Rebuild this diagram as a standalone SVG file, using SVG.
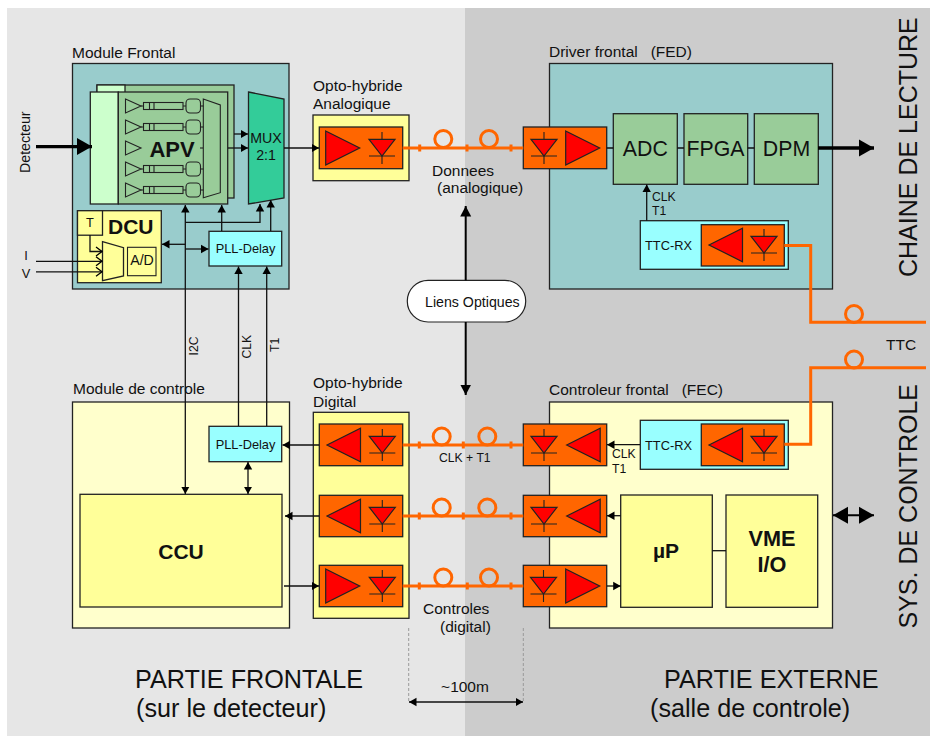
<svg xmlns="http://www.w3.org/2000/svg" width="930" height="736" viewBox="0 0 930 736">
<style>
text{font-family:"Liberation Sans",Arial,sans-serif;fill:#111;white-space:pre}
.s15{font-size:15.5px}.s14{font-size:14.2px}.s13{font-size:12.8px}.s12{font-size:12.2px}.s25{font-size:25.2px}.s26{font-size:25px}
.b{font-weight:bold}.m{text-anchor:middle}
.bx{stroke:#222;stroke-width:1.3}
.teal{fill:#99cccc}.ly{fill:#ffffcc}.y{fill:#ffff99}.g{fill:#99cc99}.c{fill:#99ffff}.o{fill:#ff6600}
.l{fill:none;stroke:#111;stroke-width:1.3}
.f{fill:none;stroke:#ff6600;stroke-width:3}
.t{fill:#ff0000;stroke:#222;stroke-width:1.2}
.thin{fill:none;stroke:#222;stroke-width:1.1}
.thick{fill:none;stroke:#000;stroke-width:3.4}
.med{fill:none;stroke:#000;stroke-width:2}
.dash{fill:none;stroke:#999;stroke-width:1;stroke-dasharray:3 2}
</style>
<defs>
<marker id="a" markerUnits="userSpaceOnUse" markerWidth="9" markerHeight="10" refX="7.5" refY="5" orient="auto-start-reverse"><path d="M0,0.8L7.5,5L0,9.2z" fill="#000"/></marker>
<marker id="am" markerUnits="userSpaceOnUse" markerWidth="12" markerHeight="12" refX="10.5" refY="6" orient="auto-start-reverse"><path d="M0,0.5L10.5,6L0,11.5z" fill="#000"/></marker>
<marker id="ao" markerUnits="userSpaceOnUse" markerWidth="9" markerHeight="12" refX="7" refY="6" orient="auto"><path d="M1,1.5L7,6L1,10.5" fill="none" stroke="#000" stroke-width="1.3"/></marker>
<marker id="ab" markerUnits="userSpaceOnUse" markerWidth="16" markerHeight="18" refX="15" refY="9" orient="auto-start-reverse"><path d="M0,0.5L15,9L0,17.5z" fill="#000"/></marker>
<g id="rcv"><path class="t" d="M-13,-8.7H13L0,8Z"/><path class="thin" d="M-13,8H13M0,-16V-8.7M0,8V16"/></g>
<path id="triR" class="t" d="M0,-17L34,0L0,17Z"/>
<path id="triL" class="t" d="M0,0L33.5,-16.7V16.7Z"/>
<g id="rowamp"><path class="thin" d="M0,-7L15.5,0L0,7Z"/><rect class="thin" x="18" y="-3.5" width="39.5" height="7"/><path class="thin" d="M15.5,0H18M24,-3.5V3.5M28.5,-3.5V3.5M57.5,0H60.5"/><rect class="thin" x="60.5" y="-7" width="14.5" height="14" rx="4"/><path class="thin" d="M75,0H78"/></g>
</defs>

<rect x="7" y="8" width="458" height="728" fill="#e6e6e6"/>
<rect x="465" y="8" width="465" height="728" fill="#cccccc"/>

<g id="module-frontal">
<rect class="bx teal" x="72.5" y="63.5" width="216.5" height="225.5"/>
<text class="s15" x="72" y="58">Module Frontal</text>
</g>
<g id="fed">
<rect class="bx teal" x="549.5" y="63.5" width="283" height="225.5"/>
<text class="s15" x="549" y="57">Driver frontal   (FED)</text>
</g>
<g id="module-controle">
<rect class="bx ly" x="72.5" y="402" width="217" height="226"/>
<text class="s15" x="73" y="394">Module de controle</text>
</g>
<g id="fec">
<rect class="bx ly" x="549.5" y="402" width="283" height="226"/>
<text class="s15" x="549" y="395">Controleur frontal   (FEC)</text>
</g>

<g id="apv">
<rect class="bx g" x="97" y="85" width="137" height="113"/>
<rect class="bx" fill="#ccffcc" x="97" y="85" width="28" height="8"/>
<rect class="bx" fill="#ccffcc" x="90.3" y="92" width="28" height="112"/>
<rect class="bx g" x="118.3" y="92" width="109.4" height="112"/>
<use href="#rowamp" x="125.5" y="106"/>
<use href="#rowamp" x="125.5" y="127"/>
<path class="thin" d="M125.5,141L141,148L125.5,155Z"/>
<use href="#rowamp" x="125.5" y="169"/>
<use href="#rowamp" x="125.5" y="190"/>
<path class="thin" d="M203.3,99L220.3,105V192.7L203.3,197.7Z"/>
<path class="thin" d="M200,148H203"/>
<text class="b m" style="font-size:22px" x="172" y="156.5">APV</text>
</g>
<g id="mux">
<path class="bx" fill="#33cc99" d="M248.5,92L284,99V198L248.5,204Z"/>
<text class="s14 m" x="266" y="143">MUX</text>
<text class="s14 m" x="266" y="160">2:1</text>
</g>
<g id="dcu">
<rect class="bx y" x="77.5" y="210.7" width="83.8" height="72"/>
<rect class="bx y" x="77.5" y="210.7" width="25" height="24.5"/>
<text class="s13 m" x="90" y="227">T</text>
<path class="bx y" d="M102.5,241.7L123.5,247.7V276L102.5,280.7Z"/>
<rect class="thin" x="127.5" y="247.3" width="28.5" height="28.4"/>
<text class="s14 m" x="142" y="265">A/D</text>
<text class="b" style="font-size:21px" x="108" y="234">DCU</text>
</g>
<g id="pll-haut">
<rect class="bx c" x="209" y="231.3" width="72.7" height="34.7"/>
<text class="s13 m" x="245.5" y="253">PLL-Delay</text>
</g>
<g id="pll-bas">
<rect class="bx c" x="209" y="426.3" width="72.7" height="35.4"/>
<text class="s13 m" x="245.5" y="449">PLL-Delay</text>
</g>
<g id="ccu">
<rect class="bx y" x="80" y="494.3" width="202" height="112.7"/>
<text class="b m" style="font-size:21px" x="181" y="559">CCU</text>
</g>

<g id="opto-analogique">
<text class="s15" x="313" y="91">Opto-hybride</text>
<text class="s15" x="313" y="109">Analogique</text>
<rect class="bx y" x="313" y="115" width="96" height="65.7"/>
<rect class="bx o" x="319.3" y="127" width="83.4" height="41.7"/>
<use href="#triR" x="325.7" y="148"/>
<use href="#rcv" x="382" y="148"/>
</g>
<g id="opto-digital">
<text class="s15" x="313" y="388">Opto-hybride</text>
<text class="s15" x="313" y="407">Digital</text>
<rect class="bx y" x="313.3" y="412.3" width="95.7" height="206"/>
<rect class="bx o" x="319.3" y="424" width="83.4" height="41.7"/>
<use href="#triL" x="327" y="445"/><use href="#rcv" x="382.3" y="445"/>
<rect class="bx o" x="319.3" y="495.3" width="83.4" height="41.4"/>
<use href="#triL" x="327" y="516"/><use href="#rcv" x="382.3" y="516"/>
<rect class="bx o" x="319.3" y="565.3" width="83.4" height="41.4"/>
<use href="#triR" x="325.7" y="586"/><use href="#rcv" x="382.3" y="586"/>
</g>
<g id="recepteur-fed">
<rect class="bx o" x="523.3" y="127" width="83.4" height="41.7"/>
<use href="#rcv" x="544" y="148"/>
<use href="#triR" x="565.7" y="148"/>
</g>
<g id="recepteurs-fec">
<rect class="bx o" x="523.3" y="424" width="83.4" height="41.7"/>
<use href="#rcv" x="544" y="445"/><use href="#triL" x="566.7" y="445"/>
<rect class="bx o" x="523.3" y="495.3" width="83.4" height="41.4"/>
<use href="#rcv" x="544" y="516"/><use href="#triL" x="566.7" y="516"/>
<rect class="bx o" x="523.3" y="565.3" width="83.4" height="41.4"/>
<use href="#rcv" x="543.5" y="586"/><use href="#triR" x="565.7" y="586"/>
</g>
<g id="adc"><rect class="bx g" x="613.3" y="113.7" width="64" height="70.6"/><text class="m" style="font-size:21.3px" x="645.3" y="156">ADC</text></g>
<g id="fpga"><rect class="bx g" x="684" y="113.7" width="63.7" height="70.6"/><text class="m" style="font-size:21.3px" x="715.5" y="156">FPGA</text></g>
<g id="dpm"><rect class="bx g" x="754.3" y="113.7" width="64" height="70.6"/><text class="m" style="font-size:21.3px" x="786.5" y="156">DPM</text></g>
<g id="ttc-rx-haut">
<rect class="bx c" x="640.3" y="220.7" width="148" height="48.6"/>
<text class="s13" x="645" y="249.5">TTC-RX</text>
<rect class="bx o" x="701.3" y="224.7" width="83" height="41.3"/>
<use href="#triL" x="709" y="245"/><use href="#rcv" x="764" y="245"/>
</g>
<g id="ttc-rx-bas">
<rect class="bx c" x="640.3" y="420.3" width="148" height="49"/>
<text class="s13" x="645" y="449.5">TTC-RX</text>
<rect class="bx o" x="701.3" y="424" width="83" height="41.7"/>
<use href="#triL" x="709" y="445"/><use href="#rcv" x="764" y="445"/>
</g>
<g id="up"><rect class="bx y" x="620.7" y="495" width="91.6" height="112.3"/><text class="b m" style="font-size:21px" x="666" y="558">µP</text></g>
<g id="vme"><rect class="bx y" x="726" y="495" width="91.7" height="112.3"/><text class="b m" style="font-size:21.7px" x="772" y="546">VME</text><text class="b m" style="font-size:21.7px" x="772" y="571.7">I/O</text></g>
<g id="liens-optiques">
<rect x="407.3" y="280.3" width="118.4" height="41.7" rx="20.8" fill="#fff" stroke="#222" stroke-width="1.2"/>
<text class="s14" x="425" y="306.5">Liens Optiques</text>
</g>

<g id="connectors">
<path class="l" marker-end="url(#a)" d="M234,134H248"/>
<path class="l" marker-end="url(#a)" d="M228,148H248"/>
<path class="l" marker-end="url(#a)" d="M284,148H319"/>
<path class="thick" marker-end="url(#ab)" d="M36,146.6H92"/>
<path class="thick" marker-end="url(#ab)" d="M818,148H874"/>
<path class="l" marker-start="url(#a)" marker-end="url(#a)" d="M185.3,494V205"/>
<path class="l" marker-end="url(#a)" d="M185.3,222.3H260V204"/>
<path class="l" marker-end="url(#a)" d="M221.7,231V205"/>
<path class="l" marker-end="url(#a)" d="M270.7,231V200"/>
<path class="l" marker-end="url(#a)" d="M185.3,244.3H162"/>
<path class="l" marker-end="url(#a)" d="M185.3,249H208.5"/>
<path class="l" marker-end="url(#a)" d="M238.5,426V266.5"/>
<path class="l" marker-end="url(#a)" d="M266.7,426V266.5"/>
<path class="l" marker-end="url(#ao)" d="M90,235V251.5H102"/>
<path class="l" marker-end="url(#ao)" d="M36,261.3H102"/>
<path class="l" marker-end="url(#ao)" d="M36,271.8H102"/>
<path class="l" marker-start="url(#a)" marker-end="url(#a)" d="M248,462V494"/>
<path class="l" marker-end="url(#a)" d="M319,445H282.5"/>
<path class="l" marker-end="url(#a)" d="M319,516H285"/>
<path class="l" marker-end="url(#a)" d="M284,586H319"/>
<path class="l" d="M606.7,148H613.3M677.3,148H684M747.7,148H754.3"/>
<path class="l" marker-end="url(#a)" d="M646.7,220.7V184.5"/>
<path class="l" marker-end="url(#a)" d="M640,444.7H607"/>
<path class="l" marker-end="url(#a)" d="M620.7,515.7H607"/>
<path class="l" marker-end="url(#a)" d="M607,586H620.7"/>
<path class="l" d="M712.3,550.7H726"/>
<path class="med" marker-start="url(#ab)" marker-end="url(#ab)" d="M833,515.3H874"/>
<path class="med" marker-end="url(#am)" d="M465.7,280.3V206"/>
<path class="med" marker-end="url(#am)" d="M465.7,322V395"/>
<path class="l" marker-start="url(#a)" marker-end="url(#a)" d="M409,702H523"/>
<path class="dash" d="M408.7,628V701M523.3,628V701"/>
<g id="fibres">
<path class="f" d="M402.7,148H523.3M419.7,144.5v7M467,144.5v7M511,144.5v7"/>
<circle class="f" cx="443.3" cy="139" r="8.5"/><circle class="f" cx="489" cy="139" r="8.5"/>
<path class="f" d="M402.7,445H523.3M419.3,441.5v7M463.3,441.5v7M511,441.5v7"/>
<circle class="f" cx="441.7" cy="436.5" r="8.5"/><circle class="f" cx="487.3" cy="436.5" r="8.5"/>
<path class="f" d="M402.7,516H523.3M419.3,512.5v7M463.3,512.5v7M511,512.5v7"/>
<circle class="f" cx="441.7" cy="507.5" r="8.5"/><circle class="f" cx="487.3" cy="507.5" r="8.5"/>
<path class="f" d="M402.7,586H523.3M419.3,582.5v7M467.3,582.5v7M511,582.5v7"/>
<circle class="f" cx="443.3" cy="577.5" r="8.5"/><circle class="f" cx="489" cy="577.5" r="8.5"/>
<path class="f" d="M784.3,245.5H810.7V322.3H926"/>
<circle class="f" cx="854" cy="314" r="8.5"/>
<path class="f" d="M926,367.7H810.7V444.3H784.3"/>
<circle class="f" cx="854" cy="359.5" r="8.5"/>
</g>
</g>

<g id="labels">
<text class="s14" transform="translate(29.5,173) rotate(-90)">Detecteur</text>
<text class="s13 m" x="26" y="259.5">I</text>
<text class="s13 m" x="26" y="277.5">V</text>
<text class="s12" transform="translate(197.5,355.5) rotate(-90)">I2C</text>
<text class="s12" transform="translate(251,358.5) rotate(-90)">CLK</text>
<text class="s12" transform="translate(279,352) rotate(-90)">T1</text>
<text class="s15" x="432" y="176">Donnees</text>
<text class="s15" x="437" y="193">(analogique)</text>
<text class="s12" x="439" y="462">CLK + T1</text>
<text class="s15" x="423" y="614">Controles</text>
<text class="s15" x="440" y="632">(digital)</text>
<text class="s15 m" x="465" y="691.5">~100m</text>
<text class="s12" x="652" y="200.5">CLK</text>
<text class="s12" x="652" y="215">T1</text>
<text class="s12" x="612" y="458">CLK</text>
<text class="s12" x="612" y="473">T1</text>
<text class="s15" x="886" y="350">TTC</text>
<text class="s26" transform="translate(916.5,277) rotate(-90)">CHAINE DE LECTURE</text>
<text class="s26" transform="translate(916.5,628.5) rotate(-90)">SYS. DE CONTROLE</text>
<text class="s25" x="135" y="688">PARTIE FRONTALE</text>
<text class="s25" x="136" y="717">(sur le detecteur)</text>
<text class="s25" x="664" y="688">PARTIE EXTERNE</text>
<text class="s25" x="650" y="717">(salle de controle)</text>
</g>
</svg>
